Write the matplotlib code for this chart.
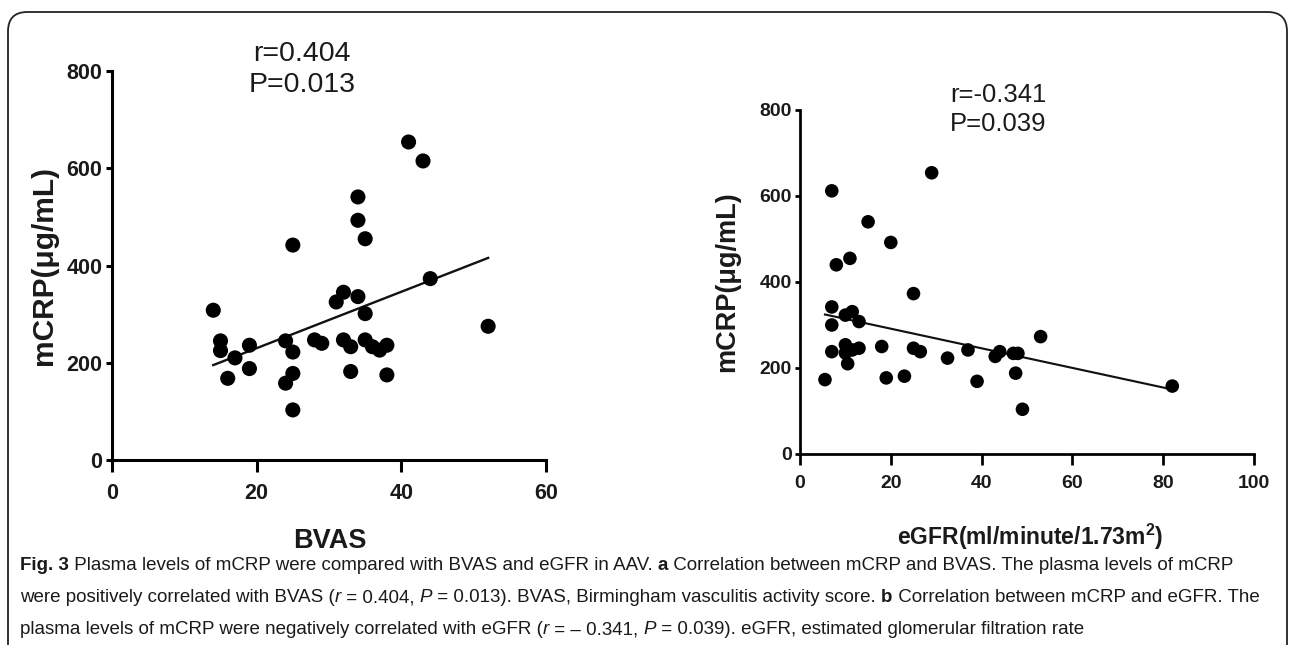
import numpy as np
import matplotlib
matplotlib.use("Agg")
import matplotlib.pyplot as plt
from matplotlib.patches import FancyBboxPatch

# ---------------------------------------------------------
# Data
# ---------------------------------------------------------
bvas_x = [14, 15, 15, 16, 17, 19, 19, 24, 24, 25, 25, 25, 25, 28, 29, 31, 32, 32,
          33, 33, 34, 34, 34, 35, 35, 35, 36, 37, 38, 38, 41, 43, 44, 52]
bvas_y = [308, 245, 225, 168, 210, 236, 188, 245, 158, 222, 178, 442, 103, 247, 240, 325, 345, 247,
          233, 182, 541, 493, 336, 455, 301, 247, 233, 226, 236, 175, 654, 615, 373, 275]

egfr_x = [5.5, 7, 7, 7, 7, 8, 10, 10, 10, 10.5, 11, 11.5, 11.5, 13, 13, 15, 18, 19,
          20, 23, 25, 25, 26.5, 29, 32.5, 37, 39, 43, 44, 47, 48, 47.5, 49, 53, 82]
egfr_y = [173, 612, 342, 300, 238, 440, 254, 323, 235, 210, 455, 331, 242, 308, 246, 540, 250, 177,
          492, 181, 246, 373, 238, 654, 223, 242, 169, 227, 238, 234, 234, 188, 104, 273, 158]

# regression lines as drawn in the figure: (slope, intercept)
fit_a = (5.8, 114)
fit_b = (-2.28, 337)

stats_a = "r=0.404\nP=0.013"
stats_b = "r=-0.341\nP=0.039"
xlabel_a = "BVAS"
xlabel_b = r"eGFR(ml/minute/1.73m$^{2}$)"
ylabel = "mCRP(μg/mL)"
xticks_a = [0, 20, 40, 60]
xticks_b = [0, 20, 40, 60, 80, 100]
yticks = [0, 200, 400, 600, 800]

W, H = 1292, 645
SANS = ["Liberation Sans", "DejaVu Sans"]

plt.rcParams["font.family"] = SANS
plt.rcParams["mathtext.fontset"] = "custom"
plt.rcParams["mathtext.rm"] = "Liberation Sans:bold"
plt.rcParams["mathtext.default"] = "rm"

fig = plt.figure(figsize=(W / 100, H / 100), dpi=100)


def px_box(x0, x1, y_top, y_bot):
    return [x0 / W, 1 - y_bot / H, (x1 - x0) / W, (y_bot - y_top) / H]


def scatter_panel(box, x, y, fit, xticks, scale, stats, stats_xy):
    ax = fig.add_axes(box)
    ax.scatter(x, y, s=118 * scale ** 2, color="black", edgecolors="none", zorder=3, clip_on=False)
    xs = np.array([min(x), max(x)])
    ax.plot(xs, fit[0] * xs + fit[1], color="#111111", lw=1.7 * scale, zorder=2)
    ax.set_xlim(xticks[0], xticks[-1])
    ax.set_ylim(0, 800)
    ax.set_xticks(xticks)
    ax.set_yticks(yticks)
    for s in ["top", "right"]:
        ax.spines[s].set_visible(False)
    for s in ["left", "bottom"]:
        ax.spines[s].set_linewidth(2.2 * scale)
    ax.tick_params(axis="x", direction="out", length=8.6 * scale, width=2.2 * scale,
                   pad=8 * scale, labelsize=15.5 * scale)
    ax.tick_params(axis="y", direction="out", length=4.3 * scale, width=2.2 * scale,
                   pad=2.5 * scale, labelsize=15.5 * scale)
    for lab in ax.get_xticklabels() + ax.get_yticklabels():
        lab.set_fontweight("bold")
        lab.set_color("#1a1a1a")
    ax.text(stats_xy[0], stats_xy[1], stats, ha="center", va="center", fontsize=20.5 * scale,
            linespacing=1.25, color="#1a1a1a")
    return ax


ax_a = scatter_panel(px_box(112, 546, 71, 460), bvas_x, bvas_y, fit_a, xticks_a, 1.0,
                     stats_a, (26.3, 804))
ax_b = scatter_panel(px_box(800, 1254, 110, 454), egfr_x, egfr_y, fit_b, xticks_b, 0.9,
                     stats_b, (43.6, 802))

# axis titles
fig.text(44 / W, 1 - 265 / H, ylabel, rotation=90, ha="center", va="center",
         fontsize=21.5, fontweight="bold", color="#1a1a1a")
fig.text(727 / W, 1 - 282 / H, ylabel, rotation=90, ha="center", va="center",
         fontsize=19.5, fontweight="bold", color="#1a1a1a")
fig.text(330 / W, 1 - 541 / H, xlabel_a, ha="center", va="center",
         fontsize=19.5, fontweight="bold", color="#1a1a1a")
fig.text(1030 / W, 1 - 537 / H, xlabel_b, ha="center", va="center",
         fontsize=16.5, fontweight="bold", color="#1a1a1a")

# rounded frame around the figure
frame = FancyBboxPatch((8 / W, -0.1), (1287 - 8) / W, (H - 12) / H + 0.1,
                       boxstyle="round,pad=0,rounding_size=0.015", transform=fig.transFigure,
                       facecolor="none", edgecolor="#222222", lw=1.3, mutation_aspect=W / H)
fig.add_artist(frame)

# caption with mixed bold / italic runs
caption = [
    [("Fig. 3", "bold", "normal"), (" Plasma levels of mCRP were compared with BVAS and eGFR in AAV. ", "normal", "normal"),
     ("a", "bold", "normal"), (" Correlation between mCRP and BVAS. The plasma levels of mCRP", "normal", "normal")],
    [("were positively correlated with BVAS (", "normal", "normal"), ("r", "normal", "italic"),
     (" = 0.404, ", "normal", "normal"), ("P", "normal", "italic"),
     (" = 0.013). BVAS, Birmingham vasculitis activity score. ", "normal", "normal"),
     ("b", "bold", "normal"), (" Correlation between mCRP and eGFR. The", "normal", "normal")],
    [("plasma levels of mCRP were negatively correlated with eGFR (", "normal", "normal"), ("r", "normal", "italic"),
     (" = \u2013 0.341, ", "normal", "normal"), ("P", "normal", "italic"),
     (" = 0.039). eGFR, estimated glomerular filtration rate", "normal", "normal")],
]
cap_y = [566, 598, 630]
cap_size = 13.5

fig.canvas.draw()
renderer = fig.canvas.get_renderer()


def run_width(s, weight, style):
    # measure with sentinels so leading / trailing spaces count
    t1 = fig.text(0, 0, "|" + s + "|", fontsize=cap_size, weight=weight, style=style)
    t2 = fig.text(0, 0, "||", fontsize=cap_size, weight=weight, style=style)
    w = t1.get_window_extent(renderer).width - t2.get_window_extent(renderer).width
    t1.remove()
    t2.remove()
    return w


for line, yy in zip(caption, cap_y):
    x = 20.0
    for s, weight, style in line:
        fig.text(x / W, 1 - yy / H, s, fontsize=cap_size, weight=weight,
                 style=style, ha="left", va="center", color="#1a1a1a")
        x += run_width(s, weight, style)

fig.savefig("out.png", dpi=100)
